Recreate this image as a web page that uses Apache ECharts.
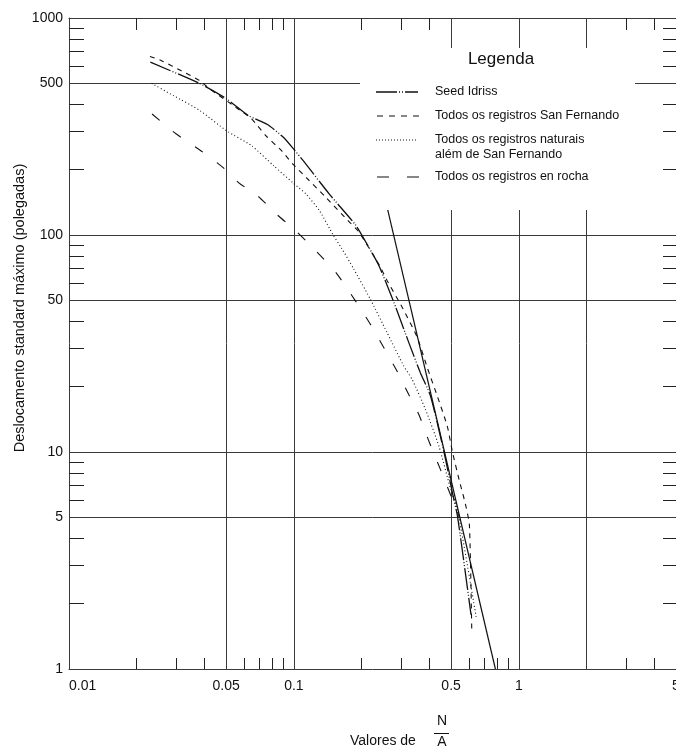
<!DOCTYPE html>
<html>
<head>
<meta charset="utf-8">
<script src="https://cdn.jsdelivr.net/npm/echarts@6/dist/echarts.min.js"></script>
<style>html,body{margin:0;padding:0;background:#fff}#c{width:676px;height:752px}</style>
</head>
<body>
<div id="c"></div>
<script>
// ---- data ----
const seedX = [0.0230, 0.0381, 0.0502, 0.0628, 0.0763, 0.0898, 0.100, 0.110, 0.144, 0.187, 0.204, 0.238, 0.278, 0.324, 0.365, 0.405, 0.465, 0.507, 0.534, 0.613];
const seedY = [626, 499, 424, 355, 323, 282, 248, 220, 154, 112, 96.8, 72.7, 49.1, 32.0, 23.2, 18.1, 10.0, 6.47, 5.05, 1.78];

const sfX = [0.0229, 0.0258, 0.0316, 0.0381, 0.0422, 0.0551, 0.0648, 0.0750, 0.0883, 0.099, 0.1135, 0.1396, 0.1775, 0.1935, 0.2418, 0.2592, 0.3025, 0.3532, 0.3916, 0.4341, 0.4813, 0.507, 0.543, 0.580, 0.603, 0.618];
const sfY = [665, 636, 571, 515, 472, 388, 343, 287, 244, 212, 184, 148, 114, 104, 71.5, 61.9, 46.6, 33.8, 24.5, 18.1, 13.1, 10.0, 7.44, 5.71, 4.62, 1.47];

const natX = [0.0233, 0.0290, 0.0381, 0.050, 0.0648, 0.0815, 0.099, 0.1135, 0.1302, 0.1495, 0.1629, 0.1838, 0.2181, 0.2592, 0.3079, 0.3354, 0.3847, 0.4418, 0.4985, 0.534, 0.646];
const natY = [500, 440, 375, 303, 258, 208, 174, 154, 129, 100, 87.0, 70.2, 50.9, 35.6, 24.9, 21.6, 15.7, 10.6, 6.70, 5.42, 1.74];

const rockX = [0.0234, 0.0300, 0.0387, 0.0483, 0.0569, 0.0692, 0.0842, 0.1024, 0.1259, 0.1547, 0.187, 0.2181, 0.2505, 0.2873, 0.324, 0.3594, 0.3985, 0.4491, 0.507, 0.543];
const rockY = [361, 292, 244, 205, 174, 151, 124, 104, 84, 66.6, 50, 39.0, 30.4, 23.6, 18.4, 14.9, 11.2, 8.27, 6.03, 5.05];

const fitX = [0.259, 0.787];
const fitY = [136, 1];

const seriesNames = ['Seed Idriss', 'Todos os registros San Fernando', 'Todos os registros naturais\nalém de San Fernando', 'Todos os registros en rocha'];

const xLabelValues = [0.01, 0.05, 0.1, 0.5, 1, 5];
const xGridValues = [0.05, 0.1, 0.5, 1, 2];
const xMinorBottom = [0.02, 0.03, 0.04, 0.06, 0.07, 0.08, 0.09, 0.2, 0.3, 0.4, 0.6, 0.7, 0.8, 0.9, 3, 4];
const xMinorTop = [0.02, 0.03, 0.04, 0.06, 0.07, 0.08, 0.09, 0.2, 0.3, 0.4, 3, 4];
const yLabelValues = [1, 5, 10, 50, 100, 500, 1000];
const yGridValues = [5, 10, 50, 100, 500, 1000];
const yMinor = [2, 3, 4, 6, 7, 8, 9, 20, 30, 40, 60, 70, 80, 90, 200, 300, 400, 600, 700, 800, 900];

// ---- chart ----
const FONT = '"Liberation Sans", Arial, Helvetica, sans-serif';
const GRID_C = '#3a3a3a';
const zip = (a, b) => a.map((v, i) => [v, b[i]]);
const fmt = v => String(+(+v).toPrecision(6));

const chart = echarts.init(document.getElementById('c'), null, { renderer: 'canvas' });

function xAxisBase(extra) {
  return Object.assign({ type: 'log', logBase: 10, min: 0.01, max: 5, gridIndex: 0 }, extra);
}
function yAxisBase(extra) {
  return Object.assign({ type: 'log', logBase: 10, min: 1, max: 1000, gridIndex: 0 }, extra);
}

const option = {
  animation: false,
  backgroundColor: '#fff',
  textStyle: { fontFamily: FONT },
  grid: { left: 69, right: 0, top: 18, bottom: 83, outerBoundsMode: 'none', containLabel: false },
  xAxis: [
    xAxisBase({
      position: 'bottom',
      axisLine: { show: true, lineStyle: { color: GRID_C, width: 1 } },
      axisTick: { show: false, customValues: xGridValues },
      axisLabel: { customValues: xLabelValues, formatter: fmt, fontSize: 14, color: '#111', margin: 10, fontFamily: FONT, alignMinLabel: 'left' },
      splitLine: { show: true, lineStyle: { color: GRID_C, width: 1 } }
    }),
    xAxisBase({
      position: 'bottom',
      axisLine: { show: false },
      axisTick: { show: true, inside: true, length: 11, customValues: xMinorBottom, lineStyle: { color: '#222', width: 1 } },
      axisLabel: { show: false },
      splitLine: { show: false }
    }),
    xAxisBase({
      position: 'top',
      axisLine: { show: true, lineStyle: { color: GRID_C, width: 1 } },
      axisTick: { show: true, inside: true, length: 12, customValues: xMinorTop, lineStyle: { color: '#222', width: 1 } },
      axisLabel: { show: false },
      splitLine: { show: false }
    })
  ],
  yAxis: [
    yAxisBase({
      position: 'left',
      axisLine: { show: true, lineStyle: { color: GRID_C, width: 1 } },
      axisTick: { show: false, customValues: yGridValues },
      axisLabel: { customValues: yLabelValues, formatter: fmt, fontSize: 14, color: '#111', margin: 6, fontFamily: FONT },
      splitLine: { show: true, lineStyle: { color: GRID_C, width: 1 } }
    }),
    yAxisBase({
      position: 'left',
      axisLine: { show: false },
      axisTick: { show: true, inside: true, length: 15, customValues: yMinor, lineStyle: { color: '#222', width: 1 } },
      axisLabel: { show: false },
      splitLine: { show: false }
    }),
    yAxisBase({
      position: 'right',
      axisLine: { show: false },
      axisTick: { show: true, inside: true, length: 13, customValues: yMinor, lineStyle: { color: '#222', width: 1 } },
      axisLabel: { show: false },
      splitLine: { show: false }
    })
  ],
  series: [
    { name: seriesNames[0], type: 'line', data: zip(seedX, seedY), showSymbol: false, symbol: 'none', z: 3, smooth: 0.2,
      lineStyle: { color: '#111', width: 1.3, type: [22, 2, 1, 2, 1, 2] } },
    { name: seriesNames[1], type: 'line', data: zip(sfX, sfY), showSymbol: false, symbol: 'none', z: 3, smooth: 0.2,
      lineStyle: { color: '#111', width: 1.1, type: [5, 5] } },
    { name: seriesNames[2], type: 'line', data: zip(natX, natY), showSymbol: false, symbol: 'none', z: 3, smooth: 0.2,
      lineStyle: { color: '#111', width: 1.1, type: [1, 2.5] } },
    { name: seriesNames[3], type: 'line', data: zip(rockX, rockY), showSymbol: false, symbol: 'none', z: 3, smooth: 0.2,
      lineStyle: { color: '#111', width: 1.1, type: [10, 17] } },
    { name: 'fit', type: 'line', data: zip(fitX, fitY), showSymbol: false, symbol: 'none', z: 3,
      lineStyle: { color: '#111', width: 1.2, type: 'solid' } }
  ],
  graphic: [
    { type: 'rect', z: 50, shape: { x: 360, y: 48, width: 275, height: 162 }, style: { fill: '#fff' } },
    { type: 'text', z: 51, x: 501, y: 59, style: { text: 'Legenda', fontSize: 17, fill: '#111', align: 'center', verticalAlign: 'middle', fontFamily: FONT } },
    { type: 'line', z: 51, shape: { x1: 376, y1: 92, x2: 418, y2: 92 }, style: { stroke: '#111', lineWidth: 1.3, lineDash: [21, 2, 1, 2, 1, 2, 60] } },
    { type: 'line', z: 51, shape: { x1: 377, y1: 116, x2: 419, y2: 116 }, style: { stroke: '#111', lineWidth: 1.1, lineDash: [6, 6] } },
    { type: 'line', z: 51, shape: { x1: 376, y1: 140, x2: 418, y2: 140 }, style: { stroke: '#111', lineWidth: 1, lineDash: [1, 2] } },
    { type: 'line', z: 51, shape: { x1: 377, y1: 177, x2: 419, y2: 177 }, style: { stroke: '#111', lineWidth: 1.1, lineDash: [12, 18] } },
    { type: 'text', z: 51, x: 435, y: 92, style: { text: seriesNames[0], fontSize: 12.5, fill: '#111', align: 'left', verticalAlign: 'middle', fontFamily: FONT } },
    { type: 'text', z: 51, x: 435, y: 116, style: { text: seriesNames[1], fontSize: 12.5, fill: '#111', align: 'left', verticalAlign: 'middle', fontFamily: FONT } },
    { type: 'text', z: 51, x: 435, y: 132.5, style: { text: seriesNames[2], fontSize: 12.5, lineHeight: 15, fill: '#111', align: 'left', verticalAlign: 'top', fontFamily: FONT } },
    { type: 'text', z: 51, x: 435, y: 177, style: { text: seriesNames[3], fontSize: 12.5, fill: '#111', align: 'left', verticalAlign: 'middle', fontFamily: FONT } },
    { type: 'text', z: 51, x: 20, y: 308, rotation: Math.PI / 2, style: { text: 'Deslocamento standard máximo (polegadas)', fontSize: 14.5, fill: '#111', align: 'center', verticalAlign: 'middle', fontFamily: FONT } },
    { type: 'text', z: 51, x: 350, y: 741, style: { text: 'Valores de', fontSize: 14, fill: '#111', align: 'left', verticalAlign: 'middle', fontFamily: FONT } },
    { type: 'text', z: 51, x: 442, y: 721, style: { text: 'N', fontSize: 14, fill: '#111', align: 'center', verticalAlign: 'middle', fontFamily: FONT } },
    { type: 'line', z: 51, shape: { x1: 434, y1: 733.5, x2: 449, y2: 733.5 }, style: { stroke: '#111', lineWidth: 1 } },
    { type: 'text', z: 51, x: 442, y: 742.5, style: { text: 'A', fontSize: 14, fill: '#111', align: 'center', verticalAlign: 'middle', fontFamily: FONT } }
  ]
};
chart.setOption(option);
</script>
</body>
</html>
